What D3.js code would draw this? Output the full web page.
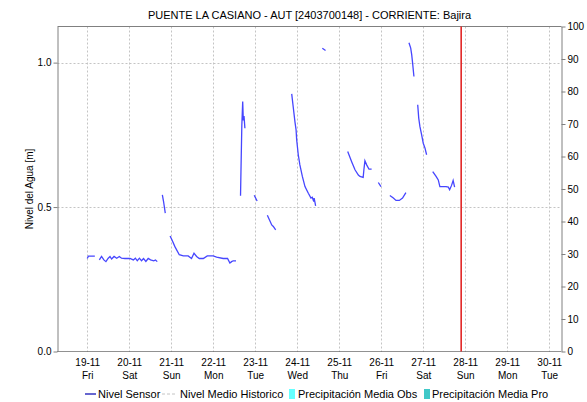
<!DOCTYPE html>
<html><head><meta charset="utf-8">
<script src="https://cdn.jsdelivr.net/npm/d3@7"></script>
<style>
html,body{margin:0;padding:0;background:#fff;}
svg{display:block;font-family:"Liberation Sans",Arial,sans-serif;}
</style></head>
<body><svg id="c" width="587" height="402"></svg>
<script>
const title = "PUENTE LA CASIANO - AUT [2403700148] - CORRIENTE: Bajira";
const yLabel = "Nivel del Agua [m]";
const leftTicks = [0, 0.5, 1.0];
const rightTicks = [0,10,20,30,40,50,60,70,80,90,100];
const dayTicks = ["19-11","20-11","21-11","22-11","23-11","24-11","25-11","26-11","27-11","28-11","29-11","30-11"];
const dayNames = ["Fri","Sat","Sun","Mon","Tue","Wed","Thu","Fri","Sat","Sun","Mon","Tue"];
const domainStart = "18-11 07:00";
const domainEnd = "30-11 07:00";
const nowTime = "27-11 21:40";
const legendLabels = ["Nivel Sensor","Nivel Medio Historico","Precipitación Media Obs","Precipitación Media Pro"];

// sensor readings (null = gap)
const times = [
 "19-11 00:00","19-11 00:40","19-11 04:20",null,
 "19-11 06:55","19-11 08:10","19-11 09:30","19-11 10:40","19-11 12:00","19-11 13:00","19-11 13:55","19-11 15:20","19-11 16:50","19-11 18:20","19-11 19:35","19-11 21:30","20-11 00:25","20-11 02:20","20-11 03:30","20-11 04:35","20-11 05:50","20-11 07:00","20-11 08:10","20-11 09:30","20-11 10:50","20-11 12:10","20-11 14:00","20-11 15:00","20-11 16:00",null,
 "20-11 18:55","20-11 19:35","20-11 20:35",null,
 "20-11 23:20","21-11 00:30","21-11 02:05","21-11 04:35","21-11 06:55","21-11 09:40","21-11 11:35","21-11 13:00","21-11 14:30","21-11 16:00","21-11 18:20","21-11 20:35","22-11 00:00","22-11 01:55","22-11 05:40","22-11 08:10","22-11 09:30","22-11 10:30","22-11 11:25","22-11 13:00",null,
 "22-11 15:35","22-11 15:50","22-11 16:20","22-11 16:50","22-11 17:10","22-11 17:35","22-11 18:05",null,
 "22-11 23:25","23-11 01:05",null,
 "23-11 06:55","23-11 09:25","23-11 10:20","23-11 11:40",null,
 "23-11 20:50","23-11 21:40","23-11 22:40","23-11 23:20","23-11 23:40","24-11 00:35","24-11 01:30","24-11 02:55","24-11 04:25","24-11 06:20","24-11 07:50","24-11 08:35","24-11 09:25","24-11 09:40","24-11 10:30",null,
 "24-11 14:20","24-11 16:10",null,
 "25-11 04:50","25-11 07:05","25-11 09:00","25-11 10:55","25-11 11:50","25-11 13:40","25-11 14:05","25-11 14:40","25-11 15:40","25-11 17:00","25-11 18:30",null,
 "25-11 22:20","25-11 23:50",null,
 "26-11 04:55","26-11 06:55","26-11 08:25","26-11 10:20","26-11 12:10","26-11 14:05",null,
 "26-11 15:50","26-11 16:50","26-11 17:25","26-11 17:55","26-11 18:40",null,
 "26-11 20:50","26-11 21:25","26-11 22:05","26-11 23:05","27-11 00:00","27-11 01:00","27-11 01:55",null,
 "27-11 05:25","27-11 07:20","27-11 08:35","27-11 09:30","27-11 13:00","27-11 14:20","27-11 15:05","27-11 16:10","27-11 17:05","27-11 17:55"
];
const levels = [
 0.322,0.330,0.330,null,
 0.317,0.329,0.317,0.311,0.323,0.329,0.320,0.329,0.323,0.329,0.323,0.322,0.322,0.317,0.323,0.314,0.323,0.314,0.322,0.312,0.322,0.317,0.314,0.317,0.311,null,
 0.542,0.520,0.479,null,
 0.400,0.385,0.363,0.335,0.331,0.331,0.322,0.340,0.329,0.322,0.322,0.331,0.331,0.327,0.322,0.322,0.306,0.311,0.314,0.314,null,
 0.539,0.623,0.784,0.865,0.800,0.815,0.773,null,
 0.541,0.521,null,
 0.472,0.438,0.433,0.421,null,
 0.892,0.848,0.796,0.767,0.733,0.681,0.646,0.606,0.571,0.548,0.531,0.534,0.519,0.531,0.504,null,
 1.050,1.042,null,
 0.692,0.657,0.629,0.611,0.606,0.603,0.629,0.660,0.646,0.631,0.631,null,
 0.585,0.571,null,
 0.540,0.531,0.523,0.523,0.531,0.550,null,
 1.069,1.050,1.027,0.998,0.952,null,
 0.854,0.808,0.779,0.750,0.721,0.704,0.681,null,
 0.623,0.606,0.594,0.571,0.571,0.569,0.560,0.575,0.592,0.569
];

const parse = s => d3.timeParse("%d-%m-%Y %H:%M")(s + "-2021".replace("-2021","") ) ;
const P = s => { const [d,t] = s.split(" "); return d3.timeParse("%d-%m-%Y %H:%M")(d + "-2021 " + t); };

const svg = d3.select("#c");
const L = 57.5, R = 561.5, T = 26.5, B = 351.5;
const x = d3.scaleTime().domain([P(domainStart), P(domainEnd)]).range([L, R]);
const y = d3.scaleLinear().domain([0, 1.125]).range([B, T]);
const y2 = d3.scaleLinear().domain([0, 100]).range([B, T]);
const font = 10;

// grid
const dayDates = dayTicks.map(d => P(d + " 00:00"));
svg.append("g").selectAll("line").data(dayDates).join("line")
  .attr("x1", d => Math.round(x(d)) + 0.5).attr("x2", d => Math.round(x(d)) + 0.5)
  .attr("y1", T).attr("y2", B)
  .attr("stroke", "#c4c4c4").attr("stroke-dasharray", "2,2");
svg.append("g").selectAll("line").data([0.5, 1.0]).join("line")
  .attr("x1", L).attr("x2", R)
  .attr("y1", d => Math.round(y(d)) + 0.5).attr("y2", d => Math.round(y(d)) + 0.5)
  .attr("stroke", "#c4c4c4").attr("stroke-dasharray", "2,2");

// frame
svg.append("line").attr("x1", L).attr("x2", R).attr("y1", T).attr("y2", T).attr("stroke", "#808080");
svg.append("line").attr("x1", L).attr("x2", R).attr("y1", B).attr("y2", B).attr("stroke", "#222").attr("stroke-dasharray", "1,1");

// left axis
const gl = svg.append("g").attr("transform", `translate(${L},0)`)
  .call(d3.axisLeft(y).tickValues(leftTicks).tickFormat(d3.format(".1f")).tickSize(4).tickSizeOuter(0).tickPadding(2));
gl.select(".domain").attr("stroke", "#808080");
gl.selectAll(".tick line").attr("stroke", "#808080");
gl.selectAll("text").attr("font-size", font).attr("font-family", "Liberation Sans, Arial").attr("fill", "#000");

// right axis
const gr = svg.append("g").attr("transform", `translate(${R},0)`)
  .call(d3.axisRight(y2).tickValues(rightTicks).tickSize(4).tickSizeOuter(0).tickPadding(2));
gr.select(".domain").attr("stroke", "#808080");
gr.selectAll(".tick line").attr("stroke", "#808080");
gr.selectAll("text").attr("font-size", font).attr("font-family", "Liberation Sans, Arial").attr("fill", "#000");

// bottom axis labels
const gb = svg.append("g").attr("transform", `translate(0,${B})`)
  .call(d3.axisBottom(x).tickValues(dayDates).tickFormat(d3.timeFormat("%d-%m")).tickSize(0).tickPadding(7));
gb.select(".domain").remove();
gb.selectAll("text").attr("font-size", font).attr("font-family", "Liberation Sans, Arial").attr("fill", "#000");
gb.selectAll(".tick").append("text")
  .attr("y", 20).attr("dy", "0.71em").attr("text-anchor", "middle")
  .attr("font-size", font).attr("font-family", "Liberation Sans, Arial").attr("fill", "#000")
  .text((d, i) => dayNames[i]);

// sensor line
const pts = times.map((t, i) => t === null ? null : { t: P(t), v: levels[i] });
const line = d3.line().defined(d => d !== null && d.v !== null).x(d => x(d.t)).y(d => y(d.v));
svg.append("path").datum(pts).attr("d", line)
  .attr("fill", "none").attr("stroke", "#4646ff").attr("stroke-width", 1.3);

// now line
svg.append("line").attr("x1", x(P(nowTime))).attr("x2", x(P(nowTime)))
  .attr("y1", T).attr("y2", B).attr("stroke", "#e01818").attr("stroke-width", 1.5);

// title
svg.append("text").attr("x", (L + R) / 2).attr("y", 19).attr("text-anchor", "middle")
  .attr("font-size", 11).attr("fill", "#000").text(title);

// y label
svg.append("text").attr("transform", `translate(33,${(T + B) / 2}) rotate(-90)`)
  .attr("text-anchor", "middle").attr("font-size", font).attr("fill", "#000").text(yLabel);

// legend
const ly = 394;
const lg = svg.append("g").attr("font-size", 11).attr("fill", "#000");
lg.append("line").attr("x1", 85).attr("x2", 96).attr("y1", ly).attr("y2", ly).attr("stroke", "#0000b0").attr("stroke-width", 1.2);
lg.append("text").attr("x", 98).attr("y", ly + 4).text(legendLabels[0]);
lg.append("line").attr("x1", 162).attr("x2", 177).attr("y1", ly).attr("y2", ly).attr("stroke", "#c4c4c4").attr("stroke-dasharray", "3,2");
lg.append("text").attr("x", 180).attr("y", ly + 4).text(legendLabels[1]);
lg.append("rect").attr("x", 289).attr("y", ly - 5).attr("width", 6).attr("height", 10).attr("fill", "#66ffff");
lg.append("text").attr("x", 298).attr("y", ly + 4).text(legendLabels[2]);
lg.append("rect").attr("x", 424).attr("y", ly - 5).attr("width", 6).attr("height", 10).attr("fill", "#40c8c8");
lg.append("text").attr("x", 432).attr("y", ly + 4).text(legendLabels[3]);
</script></body></html>
